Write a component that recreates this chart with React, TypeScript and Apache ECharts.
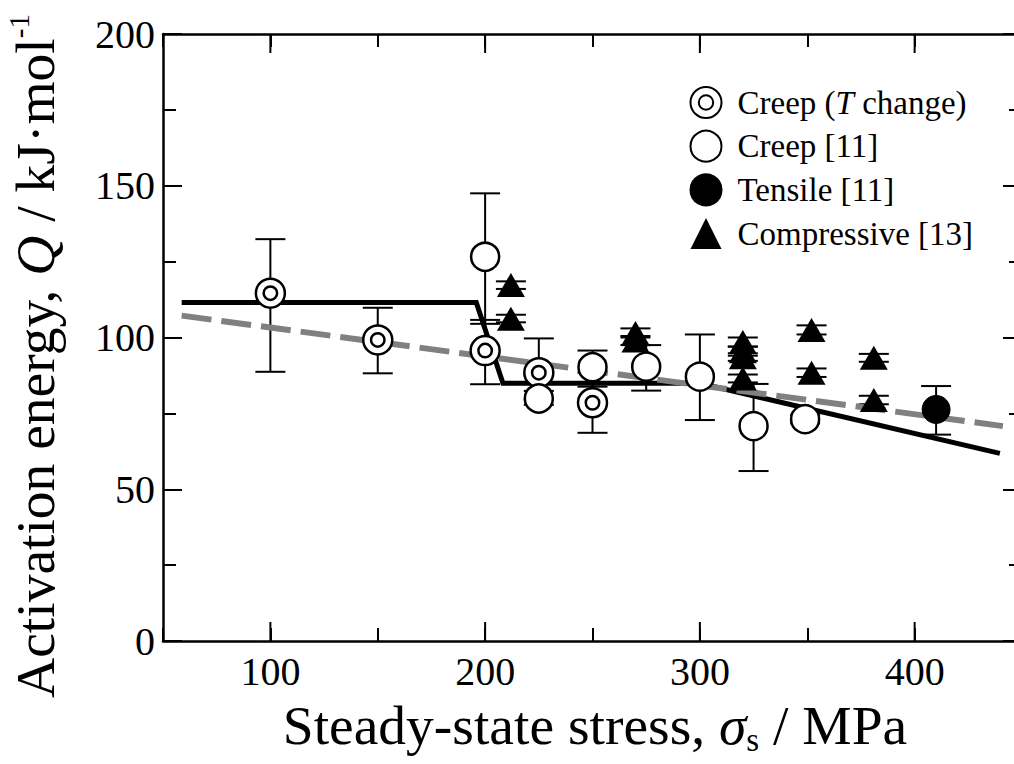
import React, { useEffect, useRef } from "react";
import * as echarts from "echarts";

// ---------- data ----------
const X_MIN = 50;
const X_MAX = 450;
const Y_MIN = 0;
const Y_MAX = 200;
const X_MAJOR_TICKS = [100, 200, 300, 400];

const BULLSEYE_X = [100, 150, 200, 225, 250];
const BULLSEYE_Y = [114.6, 99.2, 95.7, 88.4, 78.5];
const BULLSEYE_LO = [88.7, 88.2, 84.6, 79.5, 68.6];
const BULLSEYE_HI = [132.4, 109.8, 105.8, 99.7, 88.4];

const OPEN_X = [200, 225, 250, 275, 300, 325, 349];
const OPEN_Y = [126.6, 79.9, 90.2, 90.4, 87.1, 70.8, 73.1];
const OPEN_LO = [104.5, 77.8, 83.8, 82.5, 72.8, 56.0, 71.7];
const OPEN_HI = [147.5, 82.4, 95.7, 97.5, 101.0, 84.7, 74.5];

const TENSILE_X = [410];
const TENSILE_Y = [76.3];
const TENSILE_LO = [68.0];
const TENSILE_HI = [84.0];

const COMP_X = [212, 212, 270, 270, 320, 320, 320, 320, 352, 352, 381, 381];
const COMP_Y = [117.3, 106.2, 101.5, 99.0, 98.5, 95.5, 93.5, 86.5, 102.5, 88.4, 93.3, 79.4];
const COMP_LO = [116.0, 105.0, 100.0, 97.5, 97.0, 94.0, 92.3, 85.2, 101.0, 87.0, 92.0, 78.0];
const COMP_HI = [118.5, 107.5, 103.0, 100.5, 100.0, 97.0, 94.8, 87.8, 104.0, 89.8, 94.6, 80.8];

const SOLID_LINE_X = [58.7, 195.9, 208.3, 300, 439.7];
const SOLID_LINE_Y = [111.5, 111.5, 84.9, 84.9, 61.8];
const DASHED_LINE_X = [58.7, 441.1];
const DASHED_LINE_Y = [107.2, 70.8];

const NAMES = ["Creep (T change)", "Creep [11]", "Tensile [11]", "Compressive [13]"];

// ---------- helpers ----------
const FONT = "Liberation Serif";
const BULLSEYE_PATH =
  "path://M0,14 A14,14 0 1,1 28,14 A14,14 0 1,1 0,14 Z M7.5,14 A6.5,6.5 0 1,1 20.5,14 A6.5,6.5 0 1,1 7.5,14 Z";

const zip2 = (a: number[], b: number[]) => a.map((v, i) => [v, b[i]]);
const zip3 = (a: number[], b: number[], c: number[]) => a.map((v, i) => [v, b[i], c[i]]);

export default function App() {
  const ref = useRef<HTMLDivElement>(null);

  useEffect(() => {
    if (!ref.current) return;
    const chart = echarts.init(ref.current, undefined, { renderer: "svg" });

    const errData = [
      ...zip3(BULLSEYE_X, BULLSEYE_LO, BULLSEYE_HI),
      ...zip3(OPEN_X, OPEN_LO, OPEN_HI),
      ...zip3(TENSILE_X, TENSILE_LO, TENSILE_HI),
      ...zip3(COMP_X, COMP_LO, COMP_HI),
    ];

    const axisLineStyle = { color: "#000", width: 2.5 };

    const option: any = {
      animation: false,
      backgroundColor: "#fff",
      textStyle: { fontFamily: FONT },
      grid: { left: 163, top: 34, width: 859, height: 607 },
      legend: {
        orient: "vertical",
        left: 689.5,
        top: 86,
        padding: 0,
        itemWidth: 31,
        itemHeight: 31,
        itemGap: 10.7,
        selectedMode: false,
        data: [
          { name: NAMES[0], icon: BULLSEYE_PATH },
          { name: NAMES[1], icon: "circle" },
          { name: NAMES[2], icon: "circle" },
          { name: NAMES[3], icon: "triangle" },
        ],
        formatter: (name: string) =>
          name === NAMES[0] ? "Creep ({i|T} change)" : name,
        textStyle: {
          fontFamily: FONT,
          fontSize: 33,
          color: "#000",
          lineHeight: 31,
          padding: [0, 0, 0, 11],
          rich: {
            i: { fontFamily: FONT, fontSize: 33, fontStyle: "italic", color: "#000", lineHeight: 31 },
          },
        },
      },
      xAxis: [
        {
          type: "value",
          min: X_MIN,
          max: X_MAX,
          interval: 50,
          position: "bottom",
          axisLine: { show: true, onZero: false, lineStyle: axisLineStyle },
          axisTick: { show: true, inside: true, length: 13, lineStyle: { color: "#000", width: 2 } },
          axisLabel: {
            fontFamily: FONT,
            fontSize: 40,
            color: "#000",
            margin: 10,
            formatter: (v: number) => (v % 100 === 0 && v > X_MIN && v < X_MAX ? String(v) : ""),
          },
          splitLine: { show: false },
        },
        {
          type: "value",
          min: X_MIN,
          max: X_MAX,
          interval: 50,
          position: "top",
          axisLine: { show: true, onZero: false, lineStyle: axisLineStyle },
          axisTick: { show: true, inside: true, length: 13, lineStyle: { color: "#000", width: 2 } },
          axisLabel: { show: false },
          splitLine: { show: false },
        },
      ],
      yAxis: [
        {
          type: "value",
          min: Y_MIN,
          max: Y_MAX,
          interval: 50,
          position: "left",
          axisLine: { show: true, onZero: false, lineStyle: axisLineStyle },
          axisTick: { show: true, inside: true, length: 19, lineStyle: { color: "#000", width: 2 } },
          minorTick: { show: true, splitNumber: 2, length: 13, lineStyle: { color: "#000", width: 2 } },
          axisLabel: { fontFamily: FONT, fontSize: 40, color: "#000", margin: 8 },
          splitLine: { show: false },
          minorSplitLine: { show: false },
        },
        {
          type: "value",
          min: Y_MIN,
          max: Y_MAX,
          interval: 50,
          position: "right",
          axisLine: { show: true, onZero: false, lineStyle: axisLineStyle },
          axisTick: { show: true, inside: true, length: 19, lineStyle: { color: "#000", width: 2 } },
          minorTick: { show: true, splitNumber: 2, length: 13, lineStyle: { color: "#000", width: 2 } },
          axisLabel: { show: false },
          splitLine: { show: false },
          minorSplitLine: { show: false },
        },
      ],
      graphic: [
        {
          type: "text",
          x: 35,
          y: 356,
          rotation: Math.PI / 2,
          style: {
            text: "Activation energy, {i|Q} / kJ·mol{sup|-1}",
            fontFamily: FONT,
            fontSize: 55.5,
            fill: "#000",
            align: "center",
            verticalAlign: "middle",
            lineHeight: 62,
            rich: {
              i: { fontFamily: FONT, fontSize: 55.5, fontStyle: "italic", fill: "#000", lineHeight: 62 },
              sup: { fontFamily: FONT, fontSize: 29, fill: "#000", lineHeight: 30, verticalAlign: "top" },
            },
          },
        },
        {
          type: "text",
          x: 595,
          y: 725,
          style: {
            text: "Steady-state stress, {i|σ}{sub|s} / MPa",
            fontFamily: FONT,
            fontSize: 55.5,
            fill: "#000",
            align: "center",
            verticalAlign: "middle",
            lineHeight: 62,
            rich: {
              i: { fontFamily: FONT, fontSize: 55.5, fontStyle: "italic", fill: "#000", lineHeight: 62 },
              sub: { fontFamily: FONT, fontSize: 33, fill: "#000", lineHeight: 36, verticalAlign: "bottom" },
            },
          },
        },
      ],
      series: [
        {
          type: "custom",
          name: "errbars",
          silent: true,
          z: 1,
          data: errData,
          encode: { x: 0, y: [1, 2] },
          renderItem: (params: any, api: any) => {
            const x = api.value(0);
            const lo = api.coord([x, api.value(1)]);
            const hi = api.coord([x, api.value(2)]);
            const w = 15;
            const st = { stroke: "#000", lineWidth: 2 };
            return {
              type: "group",
              children: [
                { type: "line", shape: { x1: lo[0], y1: lo[1], x2: hi[0], y2: hi[1] }, style: st },
                { type: "line", shape: { x1: lo[0] - w, y1: lo[1], x2: lo[0] + w, y2: lo[1] }, style: st },
                { type: "line", shape: { x1: hi[0] - w, y1: hi[1], x2: hi[0] + w, y2: hi[1] }, style: st },
              ],
            };
          },
        },
        {
          type: "custom",
          name: "majorticks",
          silent: true,
          z: 1,
          clip: false,
          data: X_MAJOR_TICKS.map((v) => [v]),
          encode: { x: 0 },
          renderItem: (params: any, api: any) => {
            const cs = params.coordSys;
            const px = api.coord([api.value(0), Y_MIN])[0];
            const st = { stroke: "#000", lineWidth: 2 };
            const bottom = cs.y + cs.height;
            return {
              type: "group",
              children: [
                { type: "line", shape: { x1: px, y1: bottom, x2: px, y2: bottom - 19 }, style: st },
                { type: "line", shape: { x1: px, y1: cs.y, x2: px, y2: cs.y + 19 }, style: st },
              ],
            };
          },
        },
        {
          type: "line",
          name: "solid",
          z: 2,
          data: zip2(SOLID_LINE_X, SOLID_LINE_Y),
          symbol: "none",
          silent: true,
          lineStyle: { color: "#000", width: 5, join: "miter" },
        },
        {
          type: "line",
          name: "dashed",
          z: 2,
          data: zip2(DASHED_LINE_X, DASHED_LINE_Y),
          symbol: "none",
          silent: true,
          lineStyle: { color: "#808080", width: 6, type: [30, 10] },
        },
        {
          type: "scatter",
          name: NAMES[0],
          z: 3,
          symbol: BULLSEYE_PATH,
          symbolSize: 29,
          data: zip2(BULLSEYE_X, BULLSEYE_Y),
          itemStyle: { color: "#fff", borderColor: "#000", borderWidth: 2.5, opacity: 1 },
        },
        {
          type: "scatter",
          name: NAMES[1],
          z: 3,
          symbol: "circle",
          symbolSize: 28,
          data: zip2(OPEN_X, OPEN_Y),
          itemStyle: { color: "#fff", borderColor: "#000", borderWidth: 2.5, opacity: 1 },
        },
        {
          type: "scatter",
          name: NAMES[2],
          z: 3,
          symbol: "circle",
          symbolSize: 28,
          data: zip2(TENSILE_X, TENSILE_Y),
          itemStyle: { color: "#000", borderColor: "#000", borderWidth: 1, opacity: 1 },
        },
        {
          type: "scatter",
          name: NAMES[3],
          z: 3,
          symbol: "triangle",
          symbolSize: [28, 24],
          data: zip2(COMP_X, COMP_Y),
          itemStyle: { color: "#000", opacity: 1 },
        },
      ],
    };

    chart.setOption(option);
    return () => chart.dispose();
  }, []);

  return (
    <div style={{ position: "fixed", left: 0, top: 0, width: 1014, height: 764, overflow: "hidden", background: "#fff" }}>
      <div ref={ref} style={{ width: 1030, height: 764 }} />
    </div>
  );
}
